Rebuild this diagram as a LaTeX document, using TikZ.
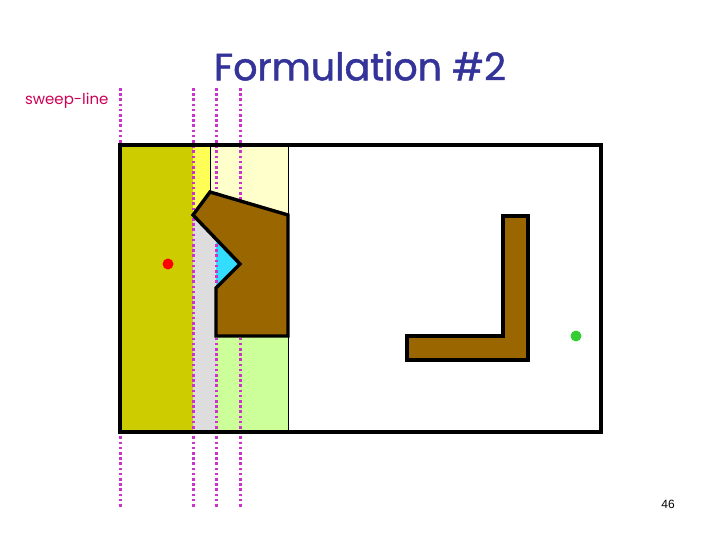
\documentclass[tikz,border=0pt]{standalone}
\usepackage{fontspec}
\newfontfamily\comicfont{Poppins}
\newfontfamily\titlefont[FakeBold=1.3]{Poppins}
\newfontfamily\arialfont{Liberation Sans}
\definecolor{olive}{HTML}{CCCC00}
\definecolor{stripyellow}{HTML}{FFFF55}
\definecolor{paleyellow}{HTML}{FFFFCC}
\definecolor{palegray}{HTML}{DDDDDD}
\definecolor{skycyan}{HTML}{33DDFF}
\definecolor{palegreen}{HTML}{CCFF99}
\definecolor{obstbrown}{HTML}{996600}
\definecolor{sweepmag}{HTML}{CC33CC}
\definecolor{titleblue}{HTML}{333399}
\definecolor{labelred}{HTML}{CC0055}

\begin{document}
\begin{tikzpicture}[x=1pt, y=-1pt,
	sweep/.style={sweepmag, line width=3pt, dash pattern=on 2.6pt off 2.6pt},
	obstacle/.style={fill=obstbrown, draw=black, line width=3.4pt, line join=miter},
	border/.style={draw=black, line width=3.4pt},
	dot/.style={circle, inner sep=0pt, minimum size=11pt}]
	\useasboundingbox (0,0) rectangle (720,540);

	% cells swept so far
	\fill[olive] (120,145) rectangle (193,432);
	\fill[stripyellow] (193,145) rectangle (210,215);
	\fill[paleyellow] (210,145) rectangle (288,240);
	\fill[palegray] (193,215) rectangle (216,432);
	\fill[palegreen] (216,336) rectangle (288,432);
	\fill[skycyan] (216,239) -- (240,264) -- (216,288) -- cycle;
	\draw[line width=1pt] (210,145) -- (210,192);
	\draw[line width=1pt] (288,145) -- (288,432);

	\foreach \x in {120,193,216,240}
		\draw[sweep] (\x,88) -- (\x,508);

	% obstacles
	\draw[obstacle] (210,192) -- (288,215) -- (288,336) -- (216,336)
		-- (216,288) -- (240,264) -- (193,215) -- cycle;
	\draw[obstacle] (503,216) -- (528,216) -- (528,360) -- (407,360)
		-- (407,336) -- (503,336) -- cycle;

	\draw[border] (120,145) rectangle (601,432);

	\node[dot, fill=red] (start) at (168,264) {};
	\node[dot, fill={rgb,255:red,51;green,204;blue,51}] (goal) at (576,336) {};

	\node[font=\titlefont\fontsize{38}{42}\selectfont, text=titleblue] (title) at (360,66) {Formulation \#2};
	\node[font=\comicfont\fontsize{15}{17}\selectfont, text=labelred, anchor=east] (sweeplabel) at (112,101) {sweep-line};
	\node[font=\arialfont\fontsize{12}{14}\selectfont] (pagenum) at (668,504) {46};
\end{tikzpicture}
\end{document}
